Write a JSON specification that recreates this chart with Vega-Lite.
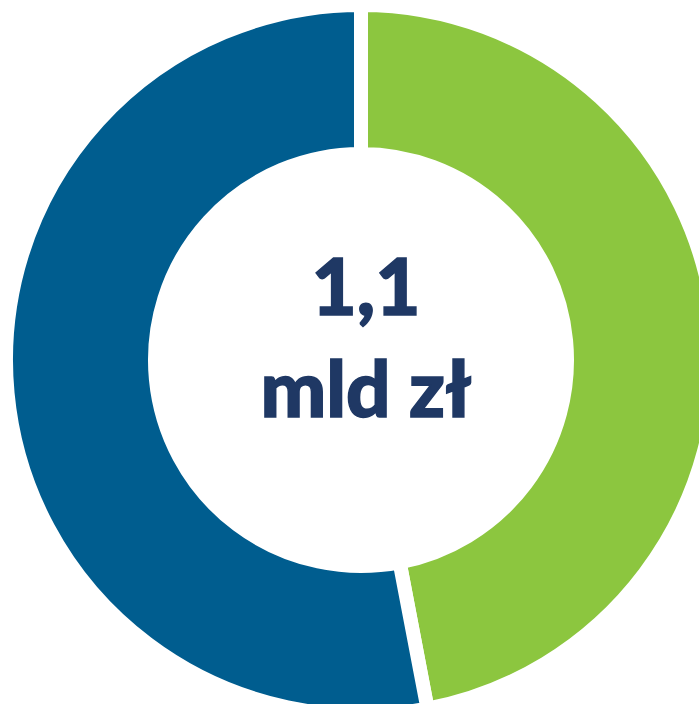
{
  "$schema": "https://vega.github.io/schema/vega-lite/v6.json",
  "width": 722,
  "height": 720,
  "padding": 0,
  "autosize": {"type": "none"},
  "background": "white",
  "view": {"stroke": null},
  "layer": [
    {
      "data": {"values": [
        {"segment": "A", "share": 47, "rank": 1},
        {"segment": "B", "share": 53, "rank": 2}
      ]},
      "mark": {"type": "arc", "outerRadius": 355, "innerRadius": 206, "stroke": "white", "strokeWidth": 14},
      "encoding": {
        "theta": {"field": "share", "type": "quantitative", "stack": true},
        "order": {"field": "rank", "type": "quantitative"},
        "color": {"field": "segment", "type": "nominal", "scale": {"domain": ["A", "B"], "range": ["#8cc63f", "#005d8f"]}, "legend": null}
      }
    },
    {
      "data": {"values": [{"t": "1,1"}]},
      "mark": {"type": "text", "font": "Lato", "fontWeight": 900, "fontSize": 78, "color": "#1f3864", "stroke": "#1f3864", "strokeWidth": 1.5, "baseline": "alphabetic", "align": "center", "dy": -45, "dx": 5},
      "encoding": {"text": {"field": "t"}}
    },
    {
      "data": {"values": [{"t": "mld zł"}]},
      "mark": {"type": "text", "font": "Lato", "fontWeight": 900, "fontSize": 78, "color": "#1f3864", "stroke": "#1f3864", "strokeWidth": 1.5, "baseline": "alphabetic", "align": "center", "dy": 57, "dx": 5},
      "encoding": {"text": {"field": "t"}}
    }
  ]
}
